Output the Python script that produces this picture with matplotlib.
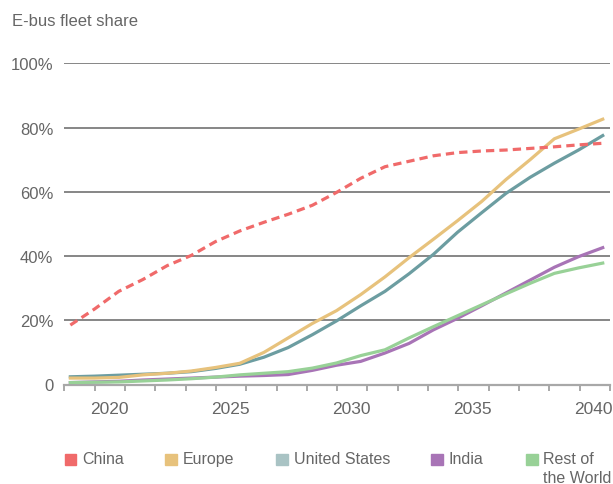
import numpy as np
import matplotlib
matplotlib.use('Agg')
import matplotlib.pyplot as plt
from matplotlib.patches import Rectangle

plt.rcParams['font.family'] = ['Liberation Sans', 'DejaVu Sans']

# data points sit a little after the start of each year on the axis
years = np.arange(2018, 2041) + 0.4

china = [18.5, 23.5, 29.0, 32.7, 37.0, 40.2, 44.5, 47.8, 50.5, 53.0, 55.8, 59.8,
         64.2, 67.8, 69.5, 71.2, 72.2, 72.7, 73.0, 73.5, 74.0, 74.6, 75.1]
europe = [2.0, 2.0, 2.2, 3.0, 3.5, 4.2, 5.3, 6.6, 10.0, 14.5, 19.0, 23.0,
          28.0, 33.5, 39.5, 45.2, 51.0, 57.0, 63.8, 70.0, 76.5, 79.5, 82.6]
united_states = [2.4, 2.6, 2.9, 3.2, 3.5, 4.0, 5.0, 6.3, 8.5, 11.5, 15.5, 19.8,
                 24.5, 29.0, 34.5, 40.5, 47.4, 53.5, 59.5, 64.5, 68.9, 73.0, 77.5]
india = [0.6, 0.8, 1.0, 1.4, 1.7, 2.0, 2.3, 2.6, 2.8, 3.1, 4.4, 6.0,
         7.2, 9.8, 12.8, 17.0, 20.6, 24.5, 28.5, 32.5, 36.5, 39.8, 42.6]
rest_of_world = [0.6, 0.7, 0.8, 1.1, 1.4, 1.8, 2.3, 3.0, 3.5, 4.0, 5.1, 6.7,
                 9.0, 10.8, 14.5, 18.0, 21.4, 24.8, 28.2, 31.5, 34.6, 36.3, 37.8]

y_ticks = [0, 20, 40, 60, 80, 100]
y_labels = ['0', '20%', '40%', '60%', '80%', '100%']
x_label_years = [2020, 2025, 2030, 2035, 2040]

legend_names = ['China', 'Europe', 'United States', 'India', 'Rest of\nthe World']
legend_colors = ['#f06a6a', '#e7c27c', '#a9c3c4', '#a874b6', '#98d197']

W, H = 613, 485
fig = plt.figure(figsize=(W / 100, H / 100), dpi=100)
ax = fig.add_axes([64.3 / W, 1 - 385.5 / H, (610 - 64.3) / W, (385.5 - 64.3) / H])

ax.plot(years, united_states, color='#6c9da1', lw=2.3, zorder=3)
ax.plot(years, europe, color='#e7c27c', lw=2.3, zorder=4)
ax.plot(years, india, color='#a874b6', lw=2.3, zorder=5)
ax.plot(years, rest_of_world, color='#98d197', lw=2.3, zorder=6)
ax.plot(years, china, color='#f06a6a', lw=2.3, ls=(0, (2.6, 1.6)), zorder=7)

ax.set_xlim(2018.15, 2040.7)
ax.set_ylim(0, 100)

ax.set_yticks(y_ticks)
ax.set_yticklabels(y_labels)
ax.set_xticks(x_label_years)
ax.set_xticklabels([str(y) for y in x_label_years])
ax.set_xticks(np.linspace(2018.15, 2040.7, 19), minor=True)

ax.tick_params(axis='y', length=0, pad=8, labelsize=12, labelcolor='#666666')
ax.tick_params(axis='x', which='major', length=0, pad=12, labelsize=12.5, labelcolor='#666666')
ax.tick_params(axis='x', which='minor', length=4, width=1.2, color='#999999', direction='out')

for v in y_ticks[1:]:
    ax.axhline(v, color='#666666', lw=1.1, zorder=1)

for side in ['top', 'right', 'left']:
    ax.spines[side].set_visible(False)
ax.spines['bottom'].set_color('#a8a8a8')
ax.spines['bottom'].set_linewidth(1.6)

fig.text(12 / W, 1 - 21 / H, 'E-bus fleet share', fontsize=12, color='#666666', va='center')

swatch_x = [64.5, 165, 276, 431, 526]
text_x = [82, 183, 294, 449, 543]
for name, color, sx, tx in zip(legend_names, legend_colors, swatch_x, text_x):
    fig.add_artist(Rectangle((sx / W, 1 - 466 / H), 11.5 / W, 11.5 / H,
                             transform=fig.transFigure, color=color))
    fig.text(tx / W, 1 - 452 / H, name, fontsize=11.5, color='#666666',
             va='top', ha='left', linespacing=1.3)

fig.savefig('out.png', dpi=100)
